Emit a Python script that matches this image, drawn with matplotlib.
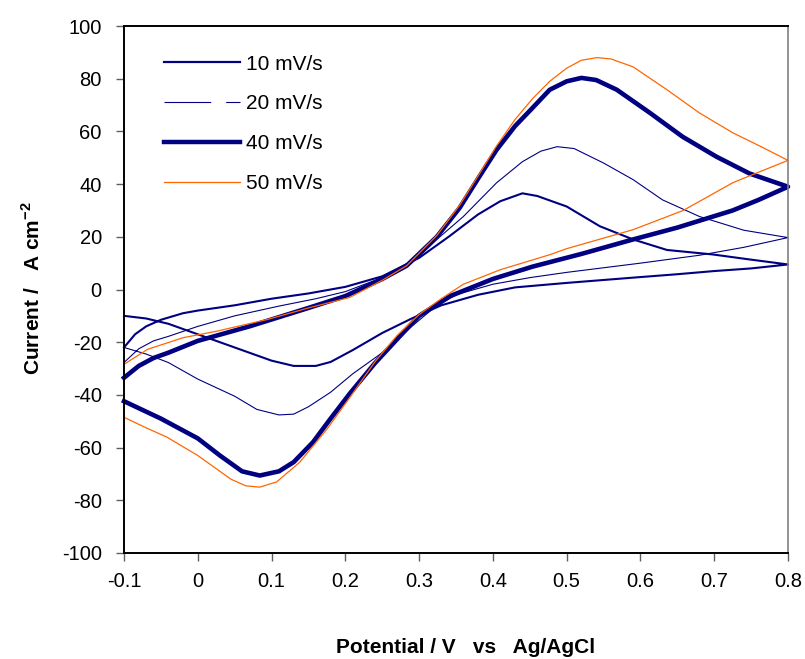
import matplotlib
matplotlib.use('Agg')
import matplotlib.pyplot as plt
from matplotlib.lines import Line2D

plt.rcParams['font.family'] = ['Liberation Sans', 'DejaVu Sans']
plt.rcParams['mathtext.fontset'] = 'custom'
plt.rcParams['mathtext.rm'] = 'Liberation Sans'
plt.rcParams['mathtext.bf'] = 'Liberation Sans:bold'
plt.rcParams['axes.unicode_minus'] = False

# cyclic voltammograms, forward (anodic) and reverse (cathodic) branches
v10_fwd_x = [-0.1, -0.085, -0.07, -0.05, -0.02, 0.0, 0.05, 0.1, 0.15, 0.2, 0.25, 0.3, 0.34, 0.38,
             0.41, 0.44, 0.46, 0.5, 0.545, 0.59, 0.636, 0.698, 0.748, 0.8]
v10_fwd_y = [-22, -17, -14, -11.5, -9, -8, -6, -3.5, -1.5, 1, 5, 12, 20, 28.5,
             33.5, 36.5, 35.5, 31.5, 24, 19, 15, 13.3, 11.4, 9.5]
v10_rev_x = [0.8, 0.75, 0.7, 0.65, 0.59, 0.5, 0.43, 0.38, 0.33, 0.29, 0.25, 0.21, 0.18, 0.16,
             0.13, 0.1, 0.07, 0.035, 0.0, -0.04, -0.07, -0.1]
v10_rev_y = [9.5, 8, 7, 5.8, 4.5, 2.5, 0.8, -2, -6, -11, -16.5, -23, -27.5, -29,
             -29, -27, -24, -20.5, -17, -13, -11, -10]

v20_fwd_x = [-0.1, -0.08, -0.06, -0.04, 0.0, 0.05, 0.11, 0.16, 0.2, 0.25, 0.3, 0.324, 0.36, 0.405,
             0.44, 0.465, 0.487, 0.51, 0.55, 0.59, 0.63, 0.68, 0.74, 0.8]
v20_fwd_y = [-27.7, -22.5, -19.5, -17.8, -14, -10, -6.3, -3.5, -0.8, 4.5, 12.5, 19, 27.7, 40.5,
             48.5, 52.5, 54.2, 53.5, 48, 41.7, 34, 27.7, 22.5, 19.7]
v20_rev_x = [0.8, 0.74, 0.68, 0.6, 0.5, 0.45, 0.4, 0.35, 0.32, 0.29, 0.25, 0.21, 0.18, 0.15,
             0.13, 0.11, 0.08, 0.05, 0.0, -0.04, -0.07, -0.1]
v20_rev_y = [19.7, 16, 13, 10, 6.5, 4.5, 2, -2, -7, -14, -24, -32, -39, -44.5,
             -47.3, -47.6, -45.5, -40.5, -34, -27.7, -24.5, -22]

v40_fwd_x = [-0.1, -0.08, -0.06, -0.04, 0.0, 0.07, 0.11, 0.15, 0.2, 0.25, 0.283, 0.324, 0.355, 0.382,
             0.405, 0.43, 0.454, 0.477, 0.5, 0.52, 0.54, 0.568, 0.613, 0.657, 0.703, 0.748, 0.8]
v40_fwd_y = [-33.5, -29, -26, -24, -19.5, -14, -10.5, -7, -2.5, 4, 9, 20, 31, 43,
             53, 62, 69, 75.8, 79, 80.3, 79.5, 75.8, 67, 58, 50.4, 44, 39]
v40_rev_x = [0.8, 0.76, 0.725, 0.65, 0.59, 0.52, 0.454, 0.4, 0.342, 0.3, 0.274, 0.24, 0.206, 0.18,
             0.156, 0.13, 0.11, 0.084, 0.06, 0.03, 0.0, -0.05, -0.1]
v40_rev_y = [39, 34, 30, 23.5, 19, 13.5, 8.7, 4, -2.5, -10, -17.7, -28, -39.5, -49,
             -58, -65.5, -69, -70.6, -69, -63, -56.5, -49, -42.4]

v50_fwd_x = [-0.1, -0.068, -0.02, 0.026, 0.094, 0.15, 0.206, 0.25, 0.283, 0.324, 0.355, 0.382, 0.405,
             0.43, 0.454, 0.477, 0.5, 0.52, 0.541, 0.56, 0.59, 0.636, 0.68, 0.725, 0.765, 0.8]
v50_fwd_y = [-28.4, -22.7, -18.3, -15.8, -11.4, -7, -3, 3.5, 9, 20.5, 32, 44, 54.5,
             64.5, 72.5, 79, 84, 87, 88, 87.5, 84.5, 75.8, 67, 59.5, 54, 49]
v50_rev_x = [0.8, 0.76, 0.725, 0.658, 0.59, 0.5, 0.477, 0.41, 0.36, 0.33, 0.3, 0.27, 0.24, 0.206,
             0.175, 0.138, 0.107, 0.084, 0.065, 0.045, 0.02, 0.0, -0.042, -0.07, -0.1]
v50_rev_y = [49, 44.5, 40.5, 30, 22.7, 15.5, 13.2, 7.5, 2, -3.5, -9.5, -17.5, -27.5, -41,
             -53, -65.6, -73, -75, -74.5, -72, -67, -63, -56, -52.5, -48.5]

labels = ['10 mV/s', '20 mV/s', '40 mV/s', '50 mV/s']
x_ticks = [-0.1, 0, 0.1, 0.2, 0.3, 0.4, 0.5, 0.6, 0.7, 0.8]
x_tick_labels = ['-0.1', '0', '0.1', '0.2', '0.3', '0.4', '0.5', '0.6', '0.7', '0.8']
y_ticks = list(range(-100, 101, 20))

NAVY = '#000080'
ORANGE = '#FF6600'

fig = plt.figure(figsize=(8.05, 6.59), dpi=100)
ax = fig.add_axes([124 / 805, 1 - 553 / 659, 664 / 805, 527 / 659])

series = [
    (v10_fwd_x + v10_rev_x, v10_fwd_y + v10_rev_y, NAVY, 1.5),
    (v20_fwd_x + v20_rev_x, v20_fwd_y + v20_rev_y, NAVY, 0.8),
    (v40_fwd_x + v40_rev_x, v40_fwd_y + v40_rev_y, NAVY, 3.3),
    (v50_fwd_x + v50_rev_x, v50_fwd_y + v50_rev_y, ORANGE, 0.9),
]
for xs, ys, color, lw in series:
    ax.plot(xs, ys, color=color, lw=lw, solid_joinstyle='round', clip_on=False)

ax.set_xlim(-0.1, 0.8)
ax.set_ylim(-100, 100)
ax.set_xticks(x_ticks)
ax.set_xticklabels(x_tick_labels)
ax.set_yticks(y_ticks)
ax.tick_params(axis='both', direction='out', length=6, width=1, color='#606060',
               labelsize=14.5, pad=8)
ax.tick_params(axis='y', pad=10)

for side in ['left', 'bottom', 'top']:
    ax.spines[side].set_linewidth(1.4)
    ax.spines[side].set_color('black')
ax.spines['right'].set_color('#808080')
ax.spines['right'].set_linewidth(1.2)

ax.set_xlabel('Potential / V   vs   Ag/AgCl', fontsize=15, fontweight='bold')
ax.xaxis.set_label_coords((466 - 124) / 664, -(638 - 553) / 527)
ax.set_ylabel(r'Current /   A cm$^{\mathbf{-2}}$', fontsize=15, fontweight='bold')
ax.yaxis.set_label_coords(-(124 - 44) / 664, (553 - 288) / 527)

handles = [
    Line2D([], [], color=NAVY, lw=1.6),
    Line2D([], [], color=NAVY, lw=0.8, dashes=(42, 13.5)),
    Line2D([], [], color=NAVY, lw=3.2),
    Line2D([], [], color=ORANGE, lw=0.9),
]
fig.legend(handles, labels, loc='upper left', bbox_to_anchor=(164 / 805, 1 - 54.5 / 659),
           frameon=False, fontsize=15, handlelength=3.65, handletextpad=0.3,
           labelspacing=1.0, borderpad=0, borderaxespad=0)

fig.savefig('out.png', dpi=100)
